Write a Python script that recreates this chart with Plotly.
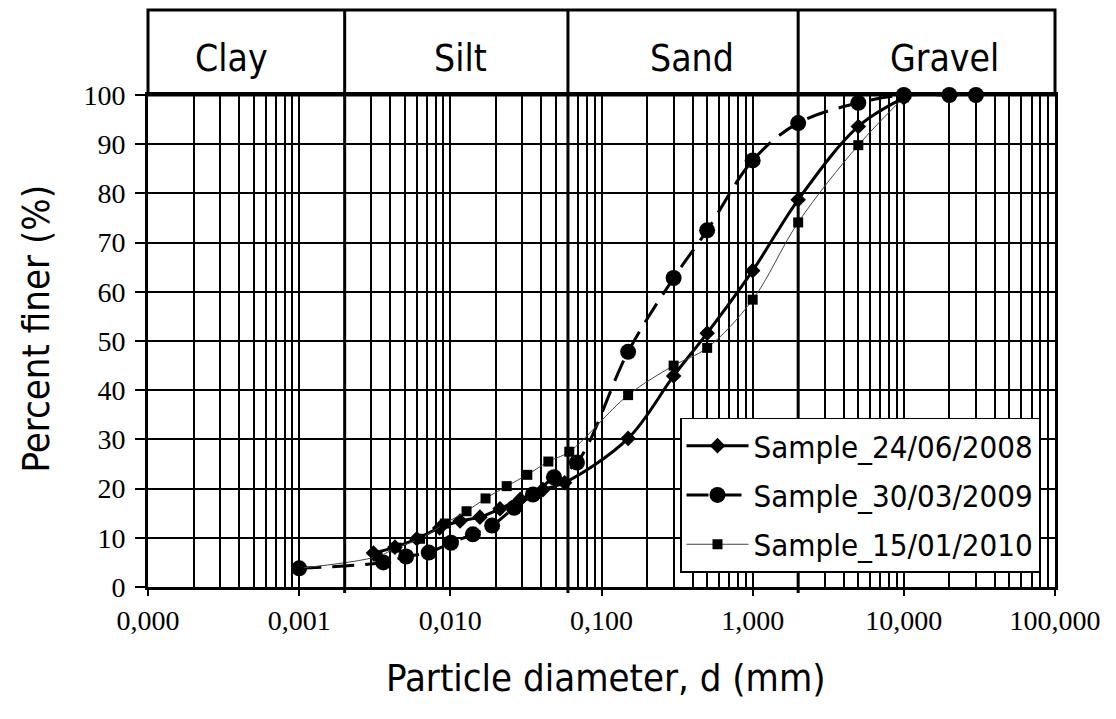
import plotly.graph_objects as go

# Grain-size distribution: particle diameter (mm) vs. percent finer (%)
d_2008 = [0.0031, 0.0043, 0.0060, 0.0085, 0.0116, 0.0157, 0.0213, 0.029, 0.041, 0.057,
          0.15, 0.3, 0.5, 1, 2, 5, 10]
p_2008 = [6.9, 8.1, 9.8, 12.0, 13.4, 14.2, 15.9, 17.8, 19.8, 21.2,
          30.2, 42.9, 51.6, 64.3, 78.7, 93.6, 99.4]

d_2009 = [0.001, 0.0036, 0.0051, 0.0072, 0.0101, 0.0141, 0.0189, 0.0264, 0.0352, 0.0485, 0.0688,
          0.15, 0.3, 0.5, 1, 2, 5, 10, 20, 30]
p_2009 = [3.8, 5.0, 6.2, 7.0, 9.0, 10.7, 12.5, 16.1, 18.8, 22.3, 25.3,
          47.8, 62.8, 72.5, 86.7, 94.3, 98.4, 100, 100, 100]

d_2010 = [0.001, 0.0033, 0.0044, 0.0063, 0.0092, 0.0128, 0.0171, 0.0236, 0.0323, 0.0445, 0.0612,
          0.15, 0.3, 0.5, 1, 2, 5, 10]
p_2010 = [3.8, 6.2, 8.0, 9.8, 12.9, 15.4, 18.0, 20.5, 22.8, 25.5, 27.5,
          39.0, 45.0, 48.6, 58.4, 74.1, 89.8, 99.5]

# Soil class limits (mm) and class names
class_limits = [0.002, 0.06, 2]
class_names = ["Clay", "Silt", "Sand", "Gravel"]
class_label_logd = [-3.45, -1.93, -0.40, 1.27]

x_tick_vals = [0.0001, 0.001, 0.01, 0.1, 1, 10, 100]
x_tick_text = ["0,000", "0,001", "0,010", "0,100", "1,000", "10,000", "100,000"]
y_tick_vals = list(range(0, 101, 10))

SANS = "DejaVu Sans Condensed, Liberation Sans, sans-serif"
SERIF = "Liberation Serif, Times New Roman, serif"

fig = go.Figure()

fig.add_trace(go.Scatter(
    x=d_2008, y=p_2008, name="Sample_24/06/2008", mode="lines+markers",
    legendgroup="a",
    line=dict(color="black", width=3, shape="spline", smoothing=1),
    marker=dict(symbol="diamond", size=12, color="black"),
    cliponaxis=False,
))
fig.add_trace(go.Scatter(
    x=d_2009, y=p_2009, name="Sample_30/03/2009", mode="lines+markers",
    legendgroup="b",
    line=dict(color="black", width=3, shape="spline", smoothing=1, dash="22px,11px"),
    marker=dict(symbol="circle", size=16, color="black"),
    cliponaxis=False,
))
fig.add_trace(go.Scatter(
    x=d_2010, y=p_2010, name="Sample_15/01/2010", mode="lines+markers",
    legendgroup="c",
    line=dict(color="#444444", width=1, shape="spline", smoothing=1),
    marker=dict(symbol="square", size=10, color="black"),
    cliponaxis=False,
))

HEADER_TOP = 1 + 85 / 492

shapes = []
# header band above the plot
shapes.append(dict(type="rect", xref="paper", yref="paper", x0=0, x1=1, y0=1, y1=HEADER_TOP,
                   line=dict(color="black", width=3), fillcolor="rgba(0,0,0,0)", layer="above"))
# class boundaries through the header and plot
for lim in class_limits:
    shapes.append(dict(type="line", xref="x", yref="paper", x0=lim, x1=lim, y0=-0.012, y1=HEADER_TOP,
                       line=dict(color="black", width=3), layer="above"))

annotations = []
for name, lx in zip(class_names, class_label_logd):
    annotations.append(dict(x=lx, xref="x", y=1.075, yref="paper", text=name, showarrow=False,
                            xanchor="center", yanchor="middle",
                            font=dict(family=SANS, size=37, color="black")))
annotations.append(dict(x=(35 - 148) / 907, xref="paper", y=(587.5 - 329) / 492, yref="paper",
                        text="Percent finer (%)", textangle=-90, showarrow=False,
                        xanchor="center", yanchor="middle",
                        font=dict(family=SANS, size=38, color="black")))
annotations.append(dict(x=0.505, xref="paper", y=(587.5 - 678) / 492, yref="paper",
                        text="Particle diameter, d (mm)", showarrow=False,
                        xanchor="center", yanchor="middle",
                        font=dict(family=SANS, size=38, color="black")))

fig.update_layout(
    width=1116, height=719,
    margin=dict(l=148, r=61, t=95, b=132),
    paper_bgcolor="white", plot_bgcolor="white",
    showlegend=True,
    legend=dict(
        x=(1040 - 148) / 907, xanchor="right", y=(587.5 - 418) / 492, yanchor="top",
        bgcolor="white", bordercolor="black", borderwidth=1.5,
        font=dict(family=SANS, size=31, color="black"),
        itemwidth=62, tracegroupgap=6,
    ),
    xaxis=dict(
        type="log", range=[-4, 2],
        tickvals=x_tick_vals, ticktext=x_tick_text,
        ticks="outside", ticklen=6, tickwidth=2, tickcolor="black",
        showline=True, linewidth=3, linecolor="black", mirror=True,
        showgrid=True, gridcolor="black", gridwidth=1.5,
        minor=dict(dtick="D1", showgrid=True, gridcolor="black", gridwidth=1.5, ticks=""),
        zeroline=False,
        tickfont=dict(family=SERIF, size=28, color="black"),
    ),
    yaxis=dict(
        range=[0, 100], tickvals=y_tick_vals,
        ticks="outside", ticklen=10, tickwidth=2, tickcolor="black",
        showline=True, linewidth=3, linecolor="black", mirror=True,
        showgrid=True, gridcolor="black", gridwidth=1.5,
        zeroline=False,
        ticklabelstandoff=4,
        tickfont=dict(family=SERIF, size=28, color="black"),
    ),
    shapes=shapes,
    annotations=annotations,
)

fig.write_html("out.html")
